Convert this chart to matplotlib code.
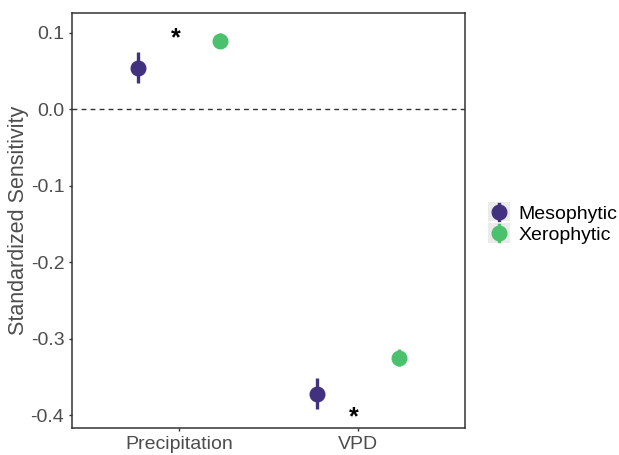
import matplotlib
matplotlib.use('Agg')

import matplotlib.pyplot as plt
from matplotlib.legend_handler import HandlerBase
from matplotlib.lines import Line2D
from matplotlib.patches import Rectangle
import numpy as np

plt.rcParams['font.family'] = ['Liberation Sans', 'DejaVu Sans']

# sensitivity estimates with their error ranges
variables = ["Precipitation", "VPD"]
groups = ["Mesophytic", "Xerophytic"]
colors = ["#41317F", "#4AC16D"]
estimate = {
	"Mesophytic": [0.054, -0.373],
	"Xerophytic": [0.089, -0.325],
}
lower = {
	"Mesophytic": [0.034, -0.392],
	"Xerophytic": [0.080, -0.336],
}
upper = {
	"Mesophytic": [0.075, -0.351],
	"Xerophytic": [0.100, -0.313],
}
star_y = [0.093, -0.403]


class PointRangeKey(HandlerBase):
	# grey key box with a point and a vertical range through it
	def create_artists(self, legend, orig_handle, xdescent, ydescent, width, height, fontsize, trans):
		c = orig_handle.get_color()
		x0 = -xdescent
		y0 = -ydescent
		box = Rectangle((x0, y0), width, height, facecolor='#EBEBEB', edgecolor='none', transform=trans)
		cx = x0 + width / 2
		cy = y0 + height / 2
		bar = Line2D([cx, cx], [y0 + 1, y0 + height - 1], color=c, lw=2.4, transform=trans)
		dot = Line2D([cx], [cy], marker='o', ms=10.5, color=c, lw=0, transform=trans)
		return [box, bar, dot]


grey = "#4D4D4D"
fig = plt.figure(figsize=(6.19, 4.55), dpi=100)
ax = fig.add_axes([72 / 619, 27 / 455, 393 / 619, 415 / 455])

x = np.arange(1, len(variables) + 1)
offsets = [-0.23, 0.23]
for g, c, off in zip(groups, colors, offsets):
	ax.vlines(x + off, lower[g], upper[g], color=c, lw=2.4, zorder=3)
	ax.plot(x + off, estimate[g], 'o', color=c, ms=10.5, zorder=4)

for xi, yi in zip(x, star_y):
	ax.text(xi - 0.02, yi, "*", ha='center', va='center', fontsize=18, fontweight='bold', color='black')

ax.axhline(0, color='#333333', lw=1, ls=(0, (3.5, 3)))

ax.set_xlim(0.4, 2.6)
ax.set_ylim(-0.417, 0.126)
ax.set_xticks(x)
ax.set_xticklabels(variables)
ax.set_yticks([0.1, 0.0, -0.1, -0.2, -0.3, -0.4])
ax.set_yticklabels(["0.1", "0.0", "-0.1", "-0.2", "-0.3", "-0.4"])
ax.tick_params(colors='#333333', labelcolor=grey, labelsize=14, length=2.5, width=1, pad=3)
ax.set_ylabel("Standardized Sensitivity", color=grey, fontsize=15.5, labelpad=1.5)
for s in ax.spines.values():
	s.set_color('#333333')
	s.set_linewidth(1.1)

handles = [Line2D([], [], color=c) for c in colors]
fig.legend(handles, groups, loc='center left', bbox_to_anchor=(488 / 619, 1 - 223 / 455),
	frameon=False, fontsize=14, handlelength=1.13, handleheight=1.13, handletextpad=0.45,
	labelspacing=0.05, borderpad=0, borderaxespad=0, handler_map={Line2D: PointRangeKey()})

fig.savefig('out.png', dpi=100)
